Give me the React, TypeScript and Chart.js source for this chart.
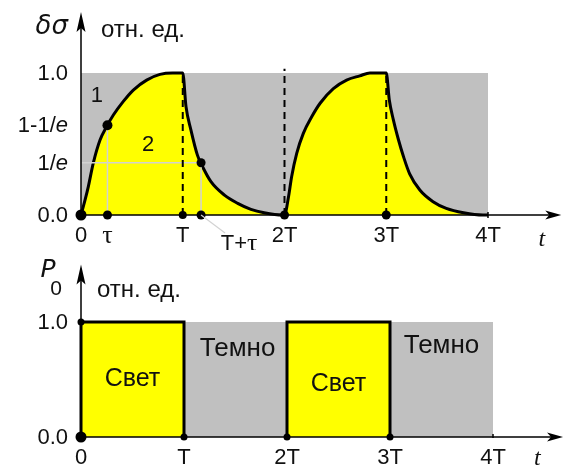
import React, { useEffect, useRef } from 'react';
import { Chart, registerables } from 'chart.js';

Chart.register(...registerables);

// ---- Data: photoconductivity response δσ(t) (time in units of T) ----
const RESPONSE_T = [
  0, 0.04, 0.072, 0.12, 0.187, 0.25, 0.318, 0.416, 0.514, 0.645, 0.776, 0.9, 1.0,
  1.032, 1.08, 1.145, 1.195, 1.277, 1.41, 1.54, 1.67, 1.8, 1.98,
  2.0, 2.04, 2.07, 2.12, 2.185, 2.266, 2.35, 2.48, 2.61, 2.74, 2.84, 3.0,
  3.03, 3.07, 3.12, 3.17, 3.23, 3.33, 3.46, 3.59, 3.76, 3.95, 4.0,
];
const RESPONSE_V = [
  0, 0.106, 0.2, 0.364, 0.528, 0.62, 0.704, 0.8, 0.88, 0.95, 0.99, 1.0, 1.0,
  0.763, 0.6, 0.42, 0.34, 0.235, 0.14, 0.082, 0.04, 0.016, 0,
  0, 0.13, 0.27, 0.434, 0.575, 0.69, 0.787, 0.89, 0.95, 0.98, 1.0, 1.0,
  0.81, 0.67, 0.53, 0.41, 0.29, 0.176, 0.094, 0.047, 0.016, 0, 0,
];

const INV_E = 1 / Math.E;
const ONE_MINUS_INV_E = 1 - 1 / Math.E;
const TAU = 0.26;
const T_PLUS_TAU = 1.18;

const TOP_X_TICKS = [0, TAU, 1, T_PLUS_TAU, 2, 3, 4];
const TOP_X_LABELS = ['0', 'τ', 'T', 'T+τ', '2T', '3T', '4T'];
const TOP_Y_TICKS = [0, INV_E, ONE_MINUS_INV_E, 1];
const TOP_Y_LABELS = ['0.0', '1/e', '1-1/e', '1.0'];

// marked points on the top plot
const TOP_MARK_T = [0, TAU, 1, T_PLUS_TAU, 2, 3, TAU, T_PLUS_TAU];
const TOP_MARK_V = [0, 0, 0, 0, 0, 0, ONE_MINUS_INV_E, INV_E];

// ---- Data: illumination P0(t) ----
const LIGHT_T = [0, 0, 1, 1, 2, 2, 3, 3];
const LIGHT_P = [0, 1, 1, 0, 0, 1, 1, 0];
const BOTTOM_X_TICKS = [0, 1, 2, 3, 4];
const BOTTOM_X_LABELS = ['0', 'T', '2T', '3T', '4T'];
const BOTTOM_Y_TICKS = [0, 1];
const BOTTOM_Y_LABELS = ['0.0', '1.0'];
const BOTTOM_MARK_T = [0, 0, 1, 2, 3];
const BOTTOM_MARK_P = [0, 1, 0, 0, 0];
const PHASE_LABELS = ['Свет', 'Темно', 'Свет', 'Темно'];

// ---- Layout / style ----
const W = 565;
const TOP_H = 250;
const BOTTOM_H = 221;
const YELLOW = '#ffff00';
const GRAY = '#c0c0c0';
const GUIDE = '#d2d2d2';
const INK = '#111';
const SANS = '"Liberation Sans", Arial, sans-serif';
const SERIF = '"Liberation Serif", "Times New Roman", serif';
const ITALIC_SANS = '"DejaVu Sans", sans-serif';

// label anchor positions in data units
const CURVE_TAGS = [
  { text: '1', x: 0.157, y: 0.84 },
  { text: '2', x: 0.66, y: 0.49 },
];
const PHASE_POS = [
  { x: 0.5, y: 0.5 },
  { x: 1.52, y: 0.77 },
  { x: 2.5, y: 0.46 },
  { x: 3.5, y: 0.79 },
];

type Part = { text: string; font: string };

function drawParts(ctx: CanvasRenderingContext2D, parts: Part[], x: number, y: number, align: 'left' | 'right' | 'center') {
  let total = 0;
  const widths = parts.map((p) => {
    ctx.font = p.font;
    const w = ctx.measureText(p.text).width;
    total += w;
    return w;
  });
  let cx = align === 'right' ? x - total : align === 'center' ? x - total / 2 : x;
  ctx.textAlign = 'left';
  parts.forEach((p, i) => {
    ctx.font = p.font;
    ctx.fillText(p.text, cx, y);
    cx += widths[i];
  });
}

// y labels: italic "e"
function yLabelParts(s: string, size: number): Part[] {
  return s.split(/(e)/).filter(Boolean).map((t) => ({
    text: t,
    font: t === 'e' ? `italic ${size}px ${SANS}` : `${size}px ${SANS}`,
  }));
}

// x labels: τ in a serif face
function xLabelParts(s: string, size: number): Part[] {
  return s.split(/(τ)/).filter(Boolean).map((t) => ({
    text: t,
    font: t === 'τ' ? `${size + 4}px ${SERIF}` : `${size}px ${SANS}`,
  }));
}

function drawAxes(ctx: CanvasRenderingContext2D, x0: number, y0: number, xTip: number, yTip: number) {
  ctx.strokeStyle = '#000';
  ctx.fillStyle = '#000';
  ctx.lineWidth = 1.5;
  ctx.beginPath();
  ctx.moveTo(x0, y0);
  ctx.lineTo(xTip - 6, y0);
  ctx.moveTo(x0, y0);
  ctx.lineTo(x0, yTip + 6);
  ctx.stroke();
  // horizontal arrowhead
  ctx.beginPath();
  ctx.moveTo(xTip, y0);
  ctx.lineTo(xTip - 16, y0 - 4.5);
  ctx.lineTo(xTip - 12, y0);
  ctx.lineTo(xTip - 16, y0 + 4.5);
  ctx.closePath();
  ctx.fill();
  // vertical arrowhead
  ctx.beginPath();
  ctx.moveTo(x0, yTip);
  ctx.lineTo(x0 - 4.5, yTip + 20);
  ctx.lineTo(x0, yTip + 16);
  ctx.lineTo(x0 + 4.5, yTip + 20);
  ctx.closePath();
  ctx.fill();
}

const topDecor = {
  id: 'topDecor',
  afterDatasetsDraw(chart: any) {
    const { ctx, scales } = chart;
    const px = (v: number) => scales.x.getPixelForValue(v);
    const py = (v: number) => scales.y.getPixelForValue(v);
    const x0 = px(0);
    const y0 = py(0);
    ctx.save();
    drawAxes(ctx, x0, y0, px(4.72), py(1.43));
    // small tick at 4T
    ctx.lineWidth = 1.5;
    ctx.beginPath();
    ctx.moveTo(px(4), y0 - 3);
    ctx.lineTo(px(4), y0 + 3);
    ctx.stroke();

    // leader line to "T+τ"
    const xtt = px(T_PLUS_TAU);
    ctx.strokeStyle = GUIDE;
    ctx.lineWidth = 1.2;
    ctx.beginPath();
    ctx.moveTo(xtt, y0);
    ctx.lineTo(xtt + 24, y0 + 18);
    ctx.stroke();

    ctx.fillStyle = INK;
    ctx.textBaseline = 'middle';
    TOP_Y_TICKS.forEach((v, i) => drawParts(ctx, yLabelParts(TOP_Y_LABELS[i], 22), x0 - 13, py(v) + 1, 'right'));
    TOP_X_TICKS.forEach((v, i) => {
      const lab = TOP_X_LABELS[i];
      if (lab === 'T+τ') drawParts(ctx, xLabelParts(lab, 22), px(v) + 38, y0 + 29, 'center');
      else drawParts(ctx, xLabelParts(lab, 22), px(v), y0 + 21, 'center');
    });

    CURVE_TAGS.forEach((t) => drawParts(ctx, [{ text: t.text, font: `22px ${SANS}` }], px(t.x), py(t.y), 'center'));

    // axis names
    drawParts(ctx, [{ text: 'δσ', font: `italic 26px ${ITALIC_SANS}` }], x0 - 13, 27, 'right');
    drawParts(ctx, [{ text: 'отн. ед.', font: `24px ${SANS}` }], x0 + 20, 30, 'left');
    drawParts(ctx, [{ text: 't', font: `italic 24px ${SERIF}` }], px(4.53), y0 + 25, 'center');
    ctx.restore();
  },
};

const bottomDecor = {
  id: 'bottomDecor',
  afterDatasetsDraw(chart: any) {
    const { ctx, scales } = chart;
    const px = (v: number) => scales.x.getPixelForValue(v);
    const py = (v: number) => scales.y.getPixelForValue(v);
    const x0 = px(0);
    const y0 = py(0);
    ctx.save();
    drawAxes(ctx, x0, y0, px(4.68), py(1.5));
    ctx.lineWidth = 1.5;
    ctx.beginPath();
    ctx.moveTo(px(4), y0 - 3);
    ctx.lineTo(px(4), y0 + 1);
    ctx.stroke();

    ctx.fillStyle = INK;
    ctx.textBaseline = 'middle';
    BOTTOM_Y_TICKS.forEach((v, i) => drawParts(ctx, yLabelParts(BOTTOM_Y_LABELS[i], 22), x0 - 13, py(v) + 1, 'right'));
    BOTTOM_X_TICKS.forEach((v, i) => drawParts(ctx, xLabelParts(BOTTOM_X_LABELS[i], 22), px(v), y0 + 21, 'center'));

    PHASE_LABELS.forEach((s, i) =>
      drawParts(ctx, [{ text: s, font: `${i % 2 ? 26 : 25}px ${SANS}` }], px(PHASE_POS[i].x), py(PHASE_POS[i].y), 'center')
    );

    drawParts(ctx, [{ text: 'P', font: `italic 25px ${ITALIC_SANS}` }], x0 - 33, 20, 'center');
    drawParts(ctx, [{ text: '0', font: `21px ${SANS}` }], x0 - 25, 39, 'center');
    drawParts(ctx, [{ text: 'отн. ед.', font: `24px ${SANS}` }], x0 + 16, 40, 'left');
    drawParts(ctx, [{ text: 't', font: `italic 24px ${SERIF}` }], px(4.43), y0 + 22, 'center');
    ctx.restore();
  },
};

const pts = (xs: number[], ys: number[]) => xs.map((x, i) => ({ x, y: ys[i] }));

const baseOptions = (pad: { left: number; right: number; top: number; bottom: number }) => ({
  animation: false as const,
  responsive: false,
  maintainAspectRatio: false,
  events: [] as any[],
  layout: { padding: pad },
  plugins: { legend: { display: false }, tooltip: { enabled: false } },
  scales: {
    x: { type: 'linear' as const, min: 0, max: 4, display: false },
    y: { type: 'linear' as const, min: 0, max: 1, display: false },
  },
});

export default function App() {
  const topRef = useRef<HTMLCanvasElement>(null);
  const bottomRef = useRef<HTMLCanvasElement>(null);

  useEffect(() => {
    const top = new Chart(topRef.current as HTMLCanvasElement, {
      type: 'line',
      data: {
        datasets: [
          {
            data: pts([0, 4], [1, 1]),
            borderWidth: 0,
            pointRadius: 0,
            fill: 'origin',
            backgroundColor: GRAY,
            order: 10,
            clip: false,
          } as any,
          {
            data: pts(RESPONSE_T, RESPONSE_V),
            borderColor: '#000',
            borderWidth: 3,
            backgroundColor: YELLOW,
            fill: 'origin',
            pointRadius: 0,
            cubicInterpolationMode: 'monotone',
            order: 5,
            clip: false,
          },
          // guide lines at 1/e and τ
          {
            data: pts([0, T_PLUS_TAU], [INV_E, INV_E]),
            borderColor: GUIDE, borderWidth: 1.5, pointRadius: 0, fill: false, order: 4,
          },
          {
            data: pts([TAU, TAU], [0, ONE_MINUS_INV_E]),
            borderColor: GUIDE, borderWidth: 1.5, pointRadius: 0, fill: false, order: 4,
          },
          {
            data: pts([T_PLUS_TAU, T_PLUS_TAU], [0, INV_E]),
            borderColor: GUIDE, borderWidth: 1.5, pointRadius: 0, fill: false, order: 4,
          },
          // dashed period markers
          ...[[1, 1.0], [2, 1.03], [3, 1.0]].map(([t, h]) => ({
            data: pts([t, t], [0, h]),
            borderColor: '#000', borderWidth: 2, borderDash: [7, 5], pointRadius: 0, fill: false, order: 3, clip: false,
          })),
          {
            data: pts(TOP_MARK_T, TOP_MARK_V),
            showLine: false,
            pointRadius: [5.5, 4.5, 4, 4.5, 4.5, 4.5, 5, 4.5],
            pointBackgroundColor: '#000',
            pointBorderWidth: 0,
            order: 0,
            clip: false,
          },
        ],
      },
      options: baseOptions({ left: 81, right: W - 488, top: 73, bottom: TOP_H - 215 }) as any,
      plugins: [topDecor],
    });

    const bottom = new Chart(bottomRef.current as HTMLCanvasElement, {
      type: 'line',
      data: {
        datasets: [
          {
            data: pts([0, 4], [1, 1]),
            borderWidth: 0,
            pointRadius: 0,
            fill: 'origin',
            backgroundColor: GRAY,
            order: 10,
            clip: false,
          } as any,
          {
            data: pts(LIGHT_T, LIGHT_P),
            borderColor: '#000',
            borderWidth: 3,
            borderJoinStyle: 'miter',
            backgroundColor: YELLOW,
            fill: 'origin',
            pointRadius: 0,
            order: 5,
            clip: false,
            segment: {
              borderColor: (c: any) => (c.p0.parsed.y === 0 && c.p1.parsed.y === 0 ? 'rgba(0,0,0,0)' : '#000'),
            },
          },
          {
            data: pts(BOTTOM_MARK_T, BOTTOM_MARK_P),
            showLine: false,
            pointRadius: [5.5, 3.5, 3.5, 3.5, 3.5],
            pointBackgroundColor: '#000',
            pointBorderWidth: 0,
            order: 0,
            clip: false,
          },
        ],
      },
      options: baseOptions({ left: 81, right: W - 493, top: 72, bottom: BOTTOM_H - 187 }) as any,
      plugins: [bottomDecor],
    });

    return () => {
      top.destroy();
      bottom.destroy();
    };
  }, []);

  return (
    <div style={{ position: 'absolute', left: 0, top: 0, width: W, height: TOP_H + BOTTOM_H, background: '#fff' }}>
      <canvas ref={topRef} width={W} height={TOP_H} style={{ display: 'block', width: W, height: TOP_H }} />
      <canvas ref={bottomRef} width={W} height={BOTTOM_H} style={{ display: 'block', width: W, height: BOTTOM_H }} />
    </div>
  );
}
